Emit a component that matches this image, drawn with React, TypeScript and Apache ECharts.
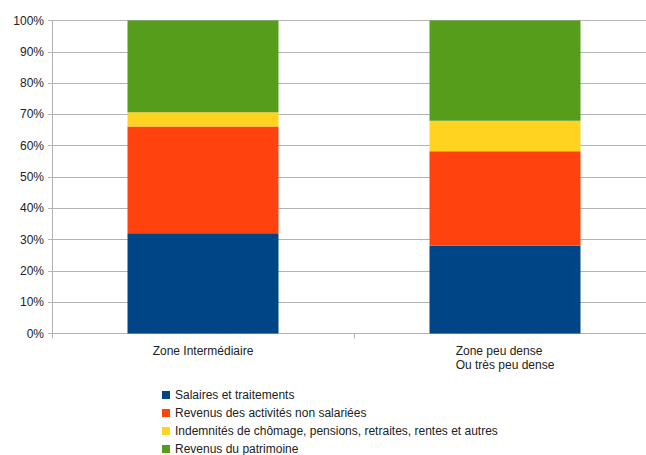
import React, { useEffect, useRef } from "react";
import * as echarts from "echarts";

const categories = ["Zone Intermédiaire", "Zone peu dense\nOu très peu dense"];
const seriesNames = [
  "Salaires et traitements",
  "Revenus des activités non salariées",
  "Indemnités de chômage, pensions, retraites, rentes et autres",
  "Revenus du patrimoine",
];
const salaires = [32.0, 28.0];
const nonSalariees = [34.1, 30.2];
const indemnites = [4.6, 9.8];
const patrimoine = [29.3, 32.0];
const colors = ["#004586", "#ff420e", "#ffd320", "#579d1c"];
const yTicks = [0, 10, 20, 30, 40, 50, 60, 70, 80, 90, 100];

export default function App() {
  const ref = useRef<HTMLDivElement>(null);
  useEffect(() => {
    if (!ref.current) return;
    const chart = echarts.init(ref.current, null, { renderer: "svg" });
    const font = "Liberation Sans, Arial, sans-serif";
    const values = [salaires, nonSalariees, indemnites, patrimoine];
    chart.setOption({
      animation: false,
      textStyle: { fontFamily: font },
      grid: { left: 52, top: 20.5, bottom: 121.5, right: 4, containLabel: false },
      legend: {
        orient: "vertical",
        left: 162,
        top: 388,
        height: 80,
        padding: 0,
        itemWidth: 8,
        itemHeight: 8,
        itemGap: 4,
        icon: "rect",
        data: seriesNames,
        textStyle: { fontSize: 12, color: "#222", fontFamily: font, lineHeight: 14 },
      },
      xAxis: {
        type: "category",
        data: categories,
        axisLine: { lineStyle: { color: "#b3b3b3" } },
        axisTick: { show: true, length: 5, lineStyle: { color: "#b3b3b3" } },
        axisLabel: {
          color: "#222",
          fontSize: 12,
          fontFamily: font,
          margin: 10,
          formatter: (v: string) =>
            v
              .split("\n")
              .map((l) => `{a|${l}}`)
              .join("\n"),
          rich: { a: { align: "left", fontSize: 12, lineHeight: 14, color: "#222", fontFamily: font } },
        },
      },
      yAxis: {
        type: "value",
        min: 0,
        max: 100,
        interval: 10,
        axisLine: { show: true, lineStyle: { color: "#b3b3b3" } },
        axisTick: { show: true, length: 4, lineStyle: { color: "#b3b3b3" } },
        splitLine: { lineStyle: { color: "#b3b3b3" } },
        axisLabel: {
          color: "#222",
          fontSize: 12,
          fontFamily: font,
          margin: 8,
          formatter: (v: number) => (yTicks.includes(v) ? `${v}%` : ""),
        },
      },
      series: seriesNames.map((name, i) => ({
        name,
        type: "bar",
        stack: "total",
        barWidth: "50%",
        data: values[i],
        itemStyle: { color: colors[i] },
      })),
    });
    return () => chart.dispose();
  }, []);
  return (
    <div
      style={{ position: "fixed", left: 0, top: 0, width: 646, height: 455, overflow: "hidden", background: "#fff" }}
    >
      <div ref={ref} style={{ width: 660, height: 455 }} />
    </div>
  );
}
